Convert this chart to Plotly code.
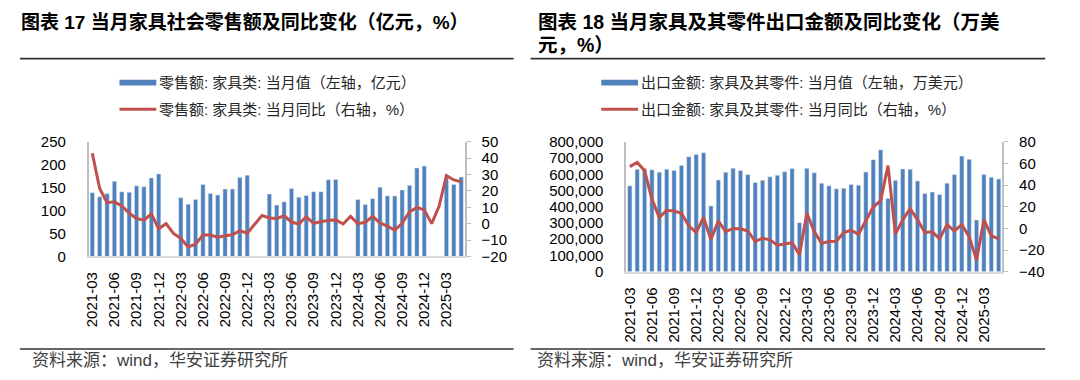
import plotly.graph_objects as go

W, H = 1080, 380

# ---------------- data ----------------
months = [
    "2021-03", "2021-04", "2021-05", "2021-06", "2021-07", "2021-08", "2021-09", "2021-10", "2021-11", "2021-12",
    "2022-01", "2022-02", "2022-03", "2022-04", "2022-05", "2022-06", "2022-07", "2022-08", "2022-09", "2022-10", "2022-11", "2022-12",
    "2023-01", "2023-02", "2023-03", "2023-04", "2023-05", "2023-06", "2023-07", "2023-08", "2023-09", "2023-10", "2023-11", "2023-12",
    "2024-01", "2024-02", "2024-03", "2024-04", "2024-05", "2024-06", "2024-07", "2024-08", "2024-09", "2024-10", "2024-11", "2024-12",
    "2025-01", "2025-02", "2025-03", "2025-04", "2025-05",
]
tick_labels = months[::3]

# Chart 17: furniture retail sales (100m yuan) and YoY (%)
retail_value = [
    139, 130, 137, 164, 141, 140, 154, 152, 171, 180,
    None, None, 128, 114, 124, 157, 137, 134, 147, 147, 172, 177,
    None, None, 136, 112, 119, 148, 129, 133, 141, 141, 167, 168,
    None, None, 124, 113, 126, 151, 132, 132, 145, 155, 193, 197,
    None, None, 171, 157, 173,
]
retail_yoy = [
    43.0, 21.5, 12.8, 13.3, 10.8, 6.4, 3.1, 2.1, 6.0, -3.1,
    0.0, -6.0, -9.0, -14.2, -12.5, -7.0, -7.0, -8.3, -7.4, -6.8, -4.3, -5.8,
    None, 5.0, 3.5, 3.1, 4.8, 1.0, -0.2, 4.2, 0.2, 1.2, 2.0, 2.3,
    -0.2, 4.4, 0.0, 0.8, 4.5, 0.4, -1.5, -4.0, 0.2, 7.2, 9.9, 8.4,
    0.0, 10.6, 29.4, 26.7, 25.5,
]

# Chart 18: furniture & parts exports (10k USD) and YoY (%)
export_value = [
    529000, 631000, 636000, 627000, 613000, 631000, 623000, 654000, 708000, 722000,
    733000, 405000, 565000, 612000, 637000, 623000, 598000, 549000, 563000, 584000, 594000, 616000,
    635000, 302000, 637000, 610000, 545000, 529000, 510000, 514000, 537000, 533000, 614000, 690000,
    751000, 451000, 563000, 633000, 631000, 559000, 481000, 490000, 475000, 545000, 598000, 712000,
    692000, 318000, 598000, 582000, 571000,
]
export_yoy = [
    57.1, 60.9, 53.5, 27.0, 10.0, 16.8, 16.0, 14.0, 2.3, -3.8,
    10.1, -10.2, 6.8, -2.9, 0.0, -0.3, -2.4, -12.1, -9.1, -10.6, -15.6, -14.7,
    -13.2, -24.4, 14.2, -3.0, -13.8, -12.1, -11.8, -3.8, -1.8, -5.3, 7.9, 19.7,
    25.6, 58.0, -5.3, 7.9, 18.2, 7.9, -3.8, -3.2, -9.7, 3.5, -2.4, 3.5,
    -7.6, -29.4, 7.9, -6.8, -9.7,
]

left_names = ["零售额: 家具类: 当月值（左轴，亿元）", "零售额: 家具类: 当月同比（右轴，%）"]
right_names = ["出口金额: 家具及其零件: 当月值（左轴，万美元）", "出口金额: 家具及其零件: 当月同比（右轴，%）"]
titles = ["图表 17 当月家具社会零售额及同比变化（亿元，%）",
          "图表 18 当月家具及其零件出口金额及同比变化（万美", "元，%）"]
source = "资料来源：wind，华安证券研究所"

# ---------------- style ----------------
BLUE = "#4F81BD"
RED = "#C0504D"
AXIS = "#BFBFBF"
TXT = "#262626"
LAT = "Liberation Sans, Arial, sans-serif"
CJK = "Liberation Sans, Noto Sans CJK SC, sans-serif"


def px(x):
    return x / W


def py(y):
    return 1 - y / H


fig = go.Figure()
fig.add_trace(go.Bar(x=months, y=retail_value, name=left_names[0], marker_color=BLUE,
                     xaxis="x", yaxis="y", showlegend=False))
fig.add_trace(go.Scatter(x=months, y=retail_yoy, name=left_names[1], mode="lines",
                         line=dict(color=RED, width=3), connectgaps=True,
                         xaxis="x", yaxis="y2", showlegend=False))
fig.add_trace(go.Bar(x=months, y=export_value, name=right_names[0], marker_color=BLUE,
                     xaxis="x2", yaxis="y3", showlegend=False))
fig.add_trace(go.Scatter(x=months, y=export_yoy, name=right_names[1], mode="lines",
                         line=dict(color=RED, width=3), connectgaps=True,
                         xaxis="x2", yaxis="y4", showlegend=False))

tickfont = dict(family=LAT, size=15, color="#000000")
xcommon = dict(type="category", tickmode="array", tickvals=tick_labels, ticktext=tick_labels,
               tickangle=-90, showline=True, linecolor="#D9D9D9", linewidth=1.5,
               showgrid=False, zeroline=False, ticks="", ticklabelstandoff=8,
               tickfont=tickfont, fixedrange=True)

fig.update_layout(
    width=W, height=H, margin=dict(l=0, r=0, t=0, b=0),
    paper_bgcolor="white", plot_bgcolor="white", bargap=0.42,
    xaxis=dict(domain=[px(84), px(462)], anchor="y", **xcommon),
    yaxis=dict(domain=[py(259), py(139)], anchor="x", range=[0, 250], dtick=50,
               showline=True, linecolor=AXIS, linewidth=1.5, showgrid=False, zeroline=False,
               ticks="", ticklabelstandoff=18, tickfont=tickfont),
    yaxis2=dict(overlaying="y", side="right", anchor="x", range=[-20, 50], dtick=10,
                showline=True, linecolor=AXIS, linewidth=1.5, showgrid=False, zeroline=False,
                ticks="outside", ticklen=4, tickcolor=AXIS, ticklabelstandoff=8, tickfont=tickfont),
    xaxis2=dict(domain=[px(624), px(1002)], anchor="y3", **xcommon),
    yaxis3=dict(domain=[py(275), py(139)], anchor="x2", range=[0, 800000], dtick=100000,
                tickformat=",d", showline=True, linecolor=AXIS, linewidth=1.5, showgrid=False,
                zeroline=False, ticks="", ticklabelstandoff=18, tickfont=tickfont),
    yaxis4=dict(overlaying="y3", side="right", anchor="x2", range=[-40, 80], dtick=20,
                showline=True, linecolor=AXIS, linewidth=1.5, showgrid=False, zeroline=False,
                ticks="outside", ticklen=4, tickcolor=AXIS, ticklabelstandoff=8, tickfont=tickfont),
)

shapes = []
annotations = []


def text(x, y, s, size, bold=False, color=TXT):
    annotations.append(dict(x=px(x), y=py(y), xref="paper", yref="paper", text=s, showarrow=False,
                            xanchor="left", yanchor="middle",
                            font=dict(family=CJK, size=size, color=color,
                                      weight="bold" if bold else "normal")))


def hline(x0, x1, y, color, width):
    shapes.append(dict(type="line", xref="paper", yref="paper", x0=px(x0), x1=px(x1),
                       y0=py(y), y1=py(y), line=dict(color=color, width=width)))


# titles
text(14, 14, titles[0], 19, bold=True, color="#000000")
text(533, 14, titles[1], 19.5, bold=True, color="#000000")
text(533, 38, titles[2], 19.5, bold=True, color="#000000")
hline(15, 511, 52, "#333333", 1.6)
hline(528, 1045, 52, "#333333", 1.6)

# legends
for x0, names in ((115, left_names), (599, right_names)):
    shapes.append(dict(type="rect", xref="paper", yref="paper", x0=px(x0), x1=px(x0 + 37),
                       y0=py(80), y1=py(74), fillcolor=BLUE, line=dict(width=0)))
    hline(x0, x0 + 37, 105, RED, 3)
    text(x0 + 38, 77, names[0], 15)
    text(x0 + 38, 105, names[1], 15)

# footers
hline(15, 511, 356, "#333333", 1.6)
hline(528, 1045, 356, "#333333", 1.6)
text(25, 368, source, 17, color="#404040")
text(532, 368, source, 17, color="#404040")

fig.update_layout(shapes=shapes, annotations=annotations)
fig.write_html("out.html", config={"displayModeBar": False},
               post_script="document.body.style.margin='0px';")
